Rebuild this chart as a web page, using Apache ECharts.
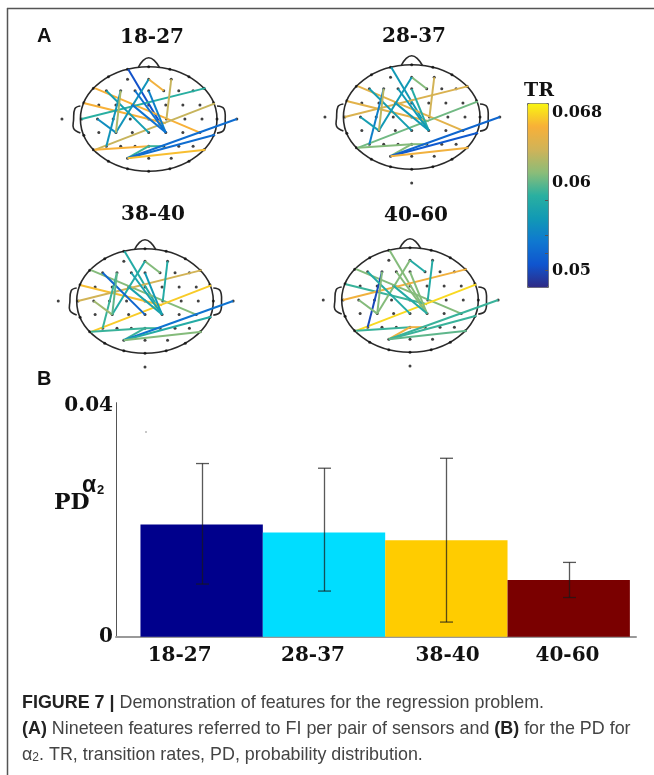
<!DOCTYPE html>
<html>
<head>
<meta charset="utf-8">
<style>html,body{margin:0;padding:0;background:#fff}#c{width:654px;height:775px}</style>
<script src="https://cdn.jsdelivr.net/npm/echarts@6/dist/echarts.min.js"></script>
</head>
<body>
<div id="c"></div>
<script>
// ---------- data ----------
const ageGroups = ['18-27', '28-37', '38-40', '40-60'];
const ageTickPositions = [0.32, 1.41, 2.51, 3.49];
const pdMean = [0.0192, 0.0178, 0.0165, 0.0097];
const pdLow  = [0.0090, 0.0078, 0.0025, 0.0067];
const pdHigh = [0.0296, 0.0288, 0.0305, 0.0127];
const pdTicks = [0, 0.04];
const trTicks = [0.05, 0.06, 0.068];
const trMinorTicks = [0.05, 0.052, 0.054, 0.058];

// sensor layout in head units (head ellipse = radius 100 in both directions)
const gridSensors = [
  [-31,76],[0,76],[33,76],
  [-62,54],[-41,54],[-20,54],[0,54],[22,54],[44,54],[65,54],
  [-73,27],[-48,27],[-24,27],[0,27],[25,27],[50,27],[75,27],
  [-98,0],[-75,0],[-52,0],[-27,0],[0,0],[26,0],[53,0],[78,0],[100,0],
  [-73,-26],[-48,-26],[-24,-26],[0,-26],[25,-26],[50,-26],[75,-26],
  [-62,-52],[-41,-52],[-20,-52],[0,-52],[22,-52],[44,-52],[65,-52],
  [-31,-75],[0,-75],[33,-75],
  [-127,0],[129,0]
];
const ringSensors = [
  [0,100],[-31,95],[31,95],[-59,81],[59,81],[-81,59],[81,59],[-95,31],[95,31],
  [-95,-31],[95,-31],[-81,-59],[81,-59],[-59,-81],[59,-81],[-31,-95],[31,-95],[0,-100]
];
const extraSensor = [[0,-126]];

const nose = [[-15,99],[-8,112],[0,117],[8,112],[16,98]];
const leftEar = [[-100,25],[-108,20],[-110,-2],[-110,-18],[-100,-27]];
const rightEar = [[100,25],[110,20],[112,-2],[110,-21],[100,-27]];

// sensor pairs: [x1, y1, x2, y2]
const featurePairs = [
  [-30,95, 25,-26],
  [-79,59, 75,-26],
  [-94,30, 25,-8],
  [-98,0, 83,59],
  [-79,-59, 97,30],
  [-79,-59, 0,-52],
  [-31,-75, 0,-52],
  [0,-52, 22,-52],
  [-31,-75, 129,0],
  [-31,-75, 97,-30],
  [-31,-75, 83,-59],
  [-62,-52, -41,54],
  [0,76, 22,54],
  [33,76, 26,0],
  [0,76, -48,-26],
  [-62,54, 0,-26],
  [-75,0, -48,-26],
  [-48,-26, -41,54],
  [0,54, 25,-26],
  [-20,54, 25,-26],
  [-24,27, 25,-26]
];
const tr1827 = [0.0505,0.0665,0.0665,0.0585,0.0635,0.0665,0.059,0.059,0.0525,0.0525,0.067,0.0555,0.066,0.0635,0.0555,0.0565,0.055,0.0625,0.054,0.053,0.053];
const tr2837 = [0.056,0.065,0.065,0.0645,0.0605,0.061,0.061,0.061,0.052,0.051,0.066,0.054,0.061,0.064,0.056,0.0565,0.0565,0.063,0.058,0.056,0.056];
const tr3840 = [0.058,0.061,0.067,0.064,0.0675,0.059,0.059,0.059,0.053,0.058,0.061,0.059,0.061,0.058,0.058,0.052,0.062,0.06,0.056,0.057,0.057];
const tr4060 = [0.061,0.061,0.059,0.066,0.068,0.059,0.066,0.066,0.059,0.059,0.06,0.05,0.058,0.058,0.061,0.058,0.061,0.061,0.061,0.061,0.058];
const trByGroup = [tr1827, tr2837, tr3840, tr4060];

// ---------- layout ----------
const centers = [[148.7,119],[411.7,117],[145,301],[410,300]];
const pxX = 0.683, pxY = 0.523, spanX = 170, spanY = 135;
const SERIF = '"DejaVu Serif"', SANS = '"Liberation Sans"';

const grids = [], xAxes = [], yAxes = [], series = [], headSeriesIdx = [];
centers.forEach((c, i) => {
  grids.push({left:c[0]-spanX*pxX, top:c[1]-spanY*pxY, width:2*spanX*pxX, height:2*spanY*pxY});
  xAxes.push({gridIndex:i, type:'value', min:-spanX, max:spanX, show:false});
  yAxes.push({gridIndex:i, type:'value', min:-spanY, max:spanY, show:false});
  // outline
  series.push({
    type:'custom', xAxisIndex:i, yAxisIndex:i, silent:true, z:1, data:[[0,0]], clip:false,
    renderItem(p, api){
      const o = api.coord([0,0]), s = api.size([100,100]);
      const style = {fill:'none', stroke:'#2a2a2a', lineWidth:1.6};
      const poly = pts => ({type:'polyline', shape:{points:pts.map(q=>api.coord(q)), smooth:0.4}, style});
      return {type:'group', children:[
        {type:'ellipse', shape:{cx:o[0], cy:o[1], rx:s[0], ry:s[1]}, style},
        poly(nose), poly(leftEar), poly(rightEar)
      ]};
    }
  });
  // sensors
  const dots = gridSensors.concat(ringSensors, i === 0 ? [] : extraSensor);
  series.push({type:'scatter', xAxisIndex:i, yAxisIndex:i, silent:true, z:2, symbolSize:3,
    itemStyle:{color:'#111'}, data:dots});
  // feature lines
  headSeriesIdx.push(series.length);
  series.push({
    type:'custom', xAxisIndex:i, yAxisIndex:i, silent:true, z:3,
    data:featurePairs.map((e,k)=>[e[0],e[1],e[2],e[3],trByGroup[i][k]]),
    dimensions:['x1','y1','x2','y2','tr'],
    encode:{x:[0,2], y:[1,3]},
    renderItem(p, api){
      const a = api.coord([api.value(0),api.value(1)]), b = api.coord([api.value(2),api.value(3)]);
      return {type:'line', shape:{x1:a[0],y1:a[1],x2:b[0],y2:b[1]},
        style:{stroke:api.visual('color'), lineWidth:2}};
    }
  });
});

// bar panel (grid 4)
grids.push({left:116, top:402.7, width:520, height:234});
xAxes.push({gridIndex:4, type:'value', min:-0.2, max:4.05,
  axisLine:{onZero:false, lineStyle:{color:'#999', width:2}},
  axisTick:{show:false}, splitLine:{show:false},
  axisLabel:{customValues:ageTickPositions, formatter:v=>ageGroups[Math.floor(v)], margin:9,
    fontFamily:SERIF, fontWeight:'bold', fontSize:20, color:'#111'}
});
yAxes.push({gridIndex:4, type:'value', min:0, max:0.04,
  axisLine:{show:true, onZero:false, lineStyle:{color:'#555', width:1}},
  axisTick:{show:false}, splitLine:{show:false},
  axisLabel:{customValues:pdTicks, margin:3,
    formatter:v=>v > 0 ? '{t|' + v + '}' : String(v),
    rich:{t:{fontFamily:SERIF, fontWeight:'bold', fontSize:20, color:'#111', padding:[6,0,0,0]}},
    fontFamily:SERIF, fontWeight:'bold', fontSize:20, color:'#111'}
});
series.push({
  type:'bar', xAxisIndex:4, yAxisIndex:4, barWidth:'100%', silent:true, colorBy:'data',
  color:['#00008c','#00ddff','#ffcc00','#7a0000'],
  data:pdMean.map((v,i)=>[i+0.5,v]), z:2
});
series.push({
  type:'custom', xAxisIndex:4, yAxisIndex:4, silent:true, z:5,
  data:pdMean.map((v,i)=>[i+0.5,pdLow[i],pdHigh[i]]),
  encode:{x:0, y:[1,2]},
  renderItem(p, api){
    const lo = api.coord([api.value(0),api.value(1)]), hi = api.coord([api.value(0),api.value(2)]);
    const st = {stroke:'rgba(25,25,25,0.72)', lineWidth:1.3};
    const x = Math.round(lo[0])+0.5, cap = 6.5;
    return {type:'group', children:[
      {type:'line', shape:{x1:x,y1:hi[1],x2:x,y2:lo[1]}, style:st},
      {type:'line', shape:{x1:x-cap,y1:hi[1],x2:x+cap,y2:hi[1]}, style:st},
      {type:'line', shape:{x1:x-cap,y1:lo[1],x2:x+cap,y2:lo[1]}, style:st}
    ]};
  }
});

// colour bar axis (grid 5)
grids.push({left:527, top:103, width:21, height:184});
xAxes.push({gridIndex:5, type:'value', show:false, min:0, max:1});
yAxes.push({gridIndex:5, type:'value', position:'right', min:0.0481, max:0.0691, z:10,
  axisLine:{show:false, onZero:false}, splitLine:{show:false},
  axisTick:{show:true, inside:true, length:3, customValues:trMinorTicks, lineStyle:{color:'#555'}},
  axisLabel:{customValues:trTicks, formatter:v=>String(v), margin:4,
    fontFamily:SERIF, fontWeight:'bold', fontSize:16, color:'#111'}
});

const label = (text, x, y, style, align) => ({
  text, left:x, top:y, padding:0, textAlign:align||'left', textVerticalAlign:'middle', textStyle:style
});
const titleStyle = {fontFamily:SERIF, fontWeight:'bold', fontSize:20, color:'#111'};
const panelStyle = {fontFamily:SANS, fontWeight:'bold', fontSize:20, color:'#111'};
const capRich = {
  b:{fontFamily:SANS, fontWeight:'bold', fontSize:17.9, color:'#222'},
  s:{fontFamily:SANS, fontSize:12, color:'#444', verticalAlign:'bottom', lineHeight:12}
};
const capStyle = {fontFamily:SANS, fontWeight:'normal', fontSize:17.9, color:'#444', rich:capRich};

const option = {
  animation:false,
  backgroundColor:'#fff',
  title:[
    label('A', 37, 36, panelStyle),
    label('B', 37, 379, panelStyle),
    label(ageGroups[0], 152, 38, titleStyle, 'center'),
    label(ageGroups[1], 414, 37, titleStyle, 'center'),
    label(ageGroups[2], 153, 215, titleStyle, 'center'),
    label(ageGroups[3], 416, 216, titleStyle, 'center'),
    label('TR', 539, 91, {fontFamily:SERIF, fontWeight:'bold', fontSize:19, color:'#111'}, 'center'),
    label('PD', 54, 503, {fontFamily:SERIF, fontWeight:'bold', fontSize:22, color:'#111'}),
    label('α', 82, 486, {fontFamily:SANS, fontWeight:'bold', fontSize:23, color:'#111'}),
    label('2', 97, 490, {fontFamily:SANS, fontWeight:'bold', fontSize:13, color:'#111'}),
    label('{b|FIGURE 7 |} Demonstration of features for the regression problem.', 22, 703, capStyle),
    label('{b|(A)} Nineteen features referred to FI per pair of sensors and {b|(B)} for the PD for', 22, 729, capStyle),
    label('α{s|2}. TR, transition rates, PD, probability distribution.', 22, 755, capStyle)
  ],
  grid:grids, xAxis:xAxes, yAxis:yAxes, series,
  visualMap:{
    type:'continuous', seriesIndex:headSeriesIdx, dimension:4, min:0.0481, max:0.0691,
    left:527, top:103, itemWidth:21, itemHeight:184, padding:0, text:null, calculable:false,
    realtime:false, hoverLink:false, showLabel:false,
    borderColor:'#666', borderWidth:1,
    inRange:{color:['#2f2a84','#0f55cf','#0f78d0','#1199b5','#2ab0a0','#8cbc78','#d0b358','#f8b038','#f9f610']}
  },
  graphic:[
    {type:'line', silent:true, shape:{x1:7.5,y1:8,x2:7.5,y2:775}, style:{stroke:'#555', lineWidth:1.5}},
    {type:'line', silent:true, shape:{x1:7,y1:8.5,x2:654,y2:8.5}, style:{stroke:'#555', lineWidth:1.5}},
    {type:'circle', silent:true, shape:{cx:146,cy:432,r:0.7}, style:{fill:'#666'}}
  ]
};
echarts.init(document.getElementById('c')).setOption(option);
</script>
</body>
</html>
